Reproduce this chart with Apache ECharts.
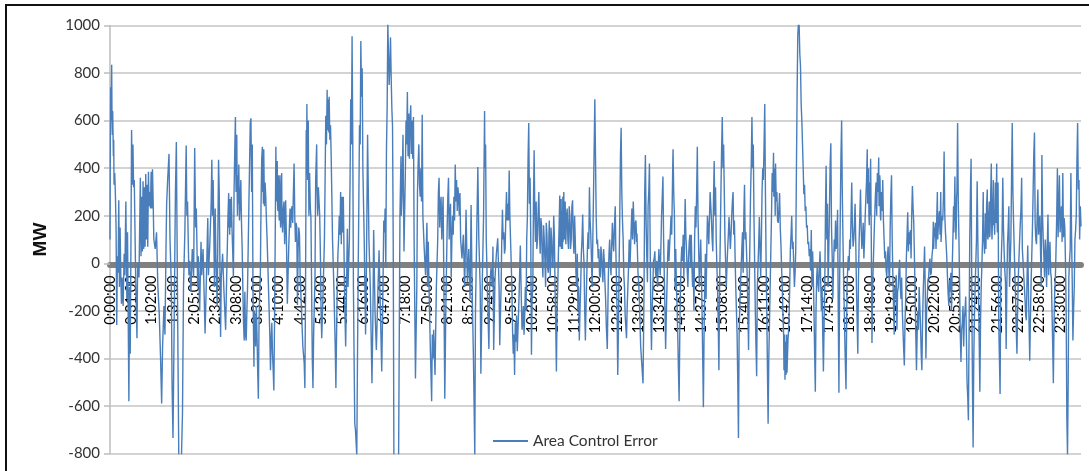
<!DOCTYPE html>
<html><head><meta charset="utf-8"><style>html,body{margin:0;padding:0;background:#fff}#c{width:1089px;height:471px}#c canvas{filter:blur(.45px)}</style>
<script src="https://cdn.jsdelivr.net/npm/echarts@6/dist/echarts.min.js"></script></head><body><div id="c"></div>
<script>
const tickLabels=["0:00:00","0:31:00","1:02:00","1:34:00","2:05:00","2:36:00","3:08:00","3:39:00","4:10:00","4:42:00","5:13:00","5:44:00","6:16:00","6:47:00","7:18:00","7:50:00","8:21:00","8:52:00","9:24:00","9:55:00","10:26:00","10:58:00","11:29:00","12:00:00","12:32:00","13:03:00","13:34:00","14:06:00","14:37:00","15:08:00","15:40:00","16:11:00","16:42:00","17:14:00","17:45:00","18:16:00","18:48:00","19:19:00","19:50:00","20:22:00","20:53:00","21:24:00","21:56:00","22:27:00","22:58:00","23:30:00"];
const seriesName="Area Control Error";
const hours0to4=[[0,100],[0.5,500],[1,740],[1.5,600],[2.5,835],[3,600],[3.5,540],[4,640],[5,450],[5.5,520],[6,330],[7,380],[8,290],[9,150],[10,-260],[11,30],[12,-40],[13,265],[14,-100],[15,150],[16,-50],[17,-170],[18,-60],[19.5,-180],[21,40],[22,-50],[23.5,260],[25,-150],[26,130],[28,-580],[29,-100],[30,-380],[31,50],[32,560],[33,330],[34,500],[35,320],[36,350],[37,150],[38,-50],[40,-315],[41,0],[43,-60],[45,360],[46,30],[47,280],[48,50],[49,345],[50,60],[51,320],[52,70],[53,375],[54,100],[55,330],[56,70],[57,385],[58,240],[59,300],[60,230],[61,385],[62,230],[63,395],[64,260],[65,100],[67,60],[69,130],[71,-100],[73,-210],[75,-400],[76.6,-590],[78,-350],[80,-180],[81.5,-300],[83,50],[84,250],[85.5,350],[87.5,460],[89,100],[91,-100],[92,-500],[93.4,-735],[95,-300],[96,0],[97,290],[98.4,510],[100,-100],[102,-810],[104,-810],[106,-810],[107.5,-630],[109,-100],[111,130],[113,495],[114,200],[115,260],[116,100],[117,-50],[118,10],[120,-120],[122,60],[124,-60],[125.6,485],[127,150],[128,230],[130,-100],[131,30],[133,-200],[135,90],[136,-50],[138,60],[141,-295],[143,-60],[145,190],[146,-50],[148,80],[150,250],[151,435],[152,200],[153,350],[155,-100],[156,230],[157,40],[159,-180],[161,435],[162,300],[164,-310],[165,-60],[167,40],[169,-120],[171.5,-280],[173,-60],[175,200],[176,295],[176.5,150],[177,240],[177.5,120],[178,270],[178.5,180],[179,260],[179.5,150],[180,280],[181,140],[182,50],[183,-60],[184,300],[185,470],[186,615],[186.5,400],[187,300],[188,540],[188.5,330],[189,200],[190,370],[190.5,250],[191,415],[192,180],[193,260],[194,350],[195,170],[196,60],[197,-100],[198,-250],[199,-325],[200,-120],[201,-300],[202,-325],[203,-200],[204,-100],[206,250],[208,590],[209,610],[210,300],[211,500],[212,-100],[213.5,-435],[214,-200],[215,-250],[216,-350],[217,-180],[218,-300],[219,-450],[220,-570],[221,-250],[222,-120],[223,-40],[224,250],[225,440],[226,490],[226.5,300],[227,430],[227.5,250],[228,480],[229,240],[230,340],[231,280],[232,180],[233,100],[235,-100],[236,-200],[237,-300],[238,-450],[239,-320],[240,-250],[241,-380],[242,-450],[243,-535],[244,-250],[245,100],[246,490],[246.5,270],[247,260],[247.5,400],[248,430],[248.5,250],[249,220],[249.5,370],[250,370],[250.5,220],[251,180],[251.5,330],[252,370],[252.5,200],[253,150],[254,300],[254.6,380],[255,180],[256,130],[257,230],[258,260],[259,80],[260.5,265],[261.5,120],[262,40],[263,-170],[264,-60],[265,60],[266,150],[267,230],[268,150],[269,220],[270,240],[271,170],[272,300],[273,420],[274,200],[275,90],[276,170],[277,150],[278,-175],[279,60],[280,150],[281,120],[282,-50]];
const hours4to8=[[284,-200],[286,-350],[288,-420],[289,-525],[290,-100],[291,560],[291.5,400],[292,670],[292.5,450],[293,350],[294,600],[294.5,380],[295,200],[295.5,350],[296,380],[296.6,385],[297,240],[298,190],[299,-100],[300,-400],[301,-525],[302,-300],[303,-180],[304,-60],[305,350],[306.5,500],[307,320],[308,200],[309,320],[310,320],[311,200],[312,40],[313,-200],[314,-315],[316,-120],[318,100],[319,350],[320,620],[321,500],[322,730],[322.5,580],[323,560],[323.5,650],[324,690],[324.5,550],[325,700],[326,520],[327,580],[328,450],[329,280],[330,100],[332,-100],[334,-350],[335,-525],[336,-300],[337,-100],[338,40],[339,100],[340,200],[341,120],[342,300],[343,80],[344,280],[345,130],[346,280],[347,60],[348,-150],[349.5,-350],[351,-60],[352,145],[353,-100],[355,100],[356,350],[357,690],[358,500],[359,955],[360,530],[361,-100],[362,-400],[363,-675],[364,-700],[366,-810],[367,-400],[368,-60],[369,250],[370,580],[371,500],[372,935],[373,700],[374,820],[375,400],[377,100],[379,-300],[380,-100],[381,220],[382,540],[383,320],[384,100],[386,-100],[388.5,-505],[390,-200],[391,140],[393,-200],[395,-365],[397,-150],[399,55],[401,-200],[403,-455],[405,-60],[406,180],[407,130],[408,230],[409,-20],[410,480],[411,650],[412,1010],[413,1010],[414,750],[415,830],[416,950],[417,780],[418,650],[419,575],[420,100],[421,-810],[424,-810],[426,-810],[428,-810],[429,-300],[430,200],[431.5,450],[432,200],[433,280],[434.5,540],[436,50],[438,380],[439,600],[440,500],[441,720],[442,450],[443,630],[444,440],[445,600],[446,665],[447,460],[448,600],[449,440],[450,615],[451,100],[452,-200],[453,-485],[455,-100],[456,300],[457,420],[458,500],[459,330],[460,280],[461,400],[462,260],[463,625],[464,200],[466,60],[468,-50],[470,170],[471,-100],[472,90],[473,-80],[475,-350],[477,-580],[478,-300],[479,-400],[480,-280],[482,-470],[484,-100],[486,100],[487,300],[488,360],[489,150],[490,240],[491,280],[492,100],[493,200],[494,280],[495,-50],[496.5,-570],[498,-200],[500,150],[501,280],[502,360],[503,100],[504,200],[505,250],[506,-60],[507,100],[508,200],[509,120],[510,280],[511,180],[512,415],[513,260],[514,350],[515,220],[516,320],[517,280],[518,200],[519,295],[520,100],[522,20],[524,120],[526,-100],[528,225],[530,-80],[532,60],[534,-150],[535.5,245],[537,-100],[539,-400],[541,-810],[542,-200],[544,150],[545.5,405],[547,100],[549,-100],[550,-465],[552,-100],[554,200],[555.5,640],[556,400],[557,500],[558,100],[560,-150],[561.9,-360],[563,-100],[565,-20],[567,-100],[567.9,70],[569,-365],[571,-60],[573,40],[575,105],[577,-100],[578,-345],[580,-100],[581,100],[582,225],[583,100],[584,130],[585,40],[586,60],[587,200],[588,300],[589,180],[590,250],[591,180],[592,390],[593,200],[594,100],[596,-100],[597,-280],[598,-380],[599,-300],[600,-470],[601,-250],[602,-330],[603,-220],[604,-370],[605,-280],[606,-200],[607,-100],[608.5,75],[610,-150],[611,-280],[612,-250]];
const hours8to12=[[613,-180],[614,-300],[615,-220],[616,-100],[617,-200],[618,100],[619,200],[620,440],[621,590],[622,250],[623,360],[624,100],[625,-385],[626,-150],[627,-100],[628,250],[629,475],[630,200],[631,90],[632,260],[633,60],[634,100],[635,220],[636,300],[637,120],[638,40],[639,190],[640,160],[641,20],[642,-60],[643,160],[644,100],[645,10],[646,-100],[647,170],[648,120],[649,-20],[650,-40],[651,130],[651.5,180],[652,20],[653,-60],[654,150],[655,100],[656,0],[657,-20],[658,200],[659,120],[660,-100],[661,-250],[662,-455],[663,-200],[664,-100],[665,40],[666,150],[667,285],[667.5,70],[668,210],[668.5,70],[669,270],[669.5,60],[670,220],[671,60],[671.5,280],[672,90],[672.5,260],[673,300],[673.5,100],[674,240],[674.5,100],[675,260],[676,80],[677,200],[678,230],[679,100],[680,60],[681,240],[682,200],[683,60],[684,100],[685,240],[686,265],[687,110],[688,40],[689,200],[690,100],[691,-40],[692,-100],[693,40],[694,-200],[695,-100],[696,-325],[697,-200],[698,-100],[699,40],[700,100],[701,205],[702,60],[703,0],[704,-200],[705,-325],[706,-180],[707,-60],[708,60],[709,130],[710,60],[711,320],[712,180],[713,120],[714,20],[715,-100],[716,100],[717,280],[718,480],[719,690],[720,450],[721,200],[722,80],[723,100],[724,20],[725,60],[726,-50],[727,-60],[728,70],[729,40],[730,-40],[731,-80],[732,60],[733,10],[734,-80],[735,-150],[736,-260],[737.5,-360],[739,-60],[740,40],[741,100],[742,10],[743,-50],[744,70],[745,170],[746,90],[747,50],[748,150],[749.3,240],[750,80],[751,-60],[752,-200],[753,-470],[754,-280],[755,-20],[756,200],[757,450],[758,570],[759,300],[760,180],[761,100],[762,-50],[763,-100],[764,-220],[766,-315],[767,-180],[768,-100],[769,-20],[770,100],[771,-20],[772,60],[773,150],[774,230],[775,100],[776,260],[777,170],[778,80],[779,170],[780,180],[781,90],[781.5,125],[783,-40],[784,-80],[785,-150],[786,-250],[787,-350],[789,-440],[790.5,-505],[792,-100],[793,300],[794,455],[795,180],[796,40],[797,-80],[798,240],[799,300],[800,420],[801,100],[802,-200],[803,-365],[804,-200],[805,-100],[806,10],[807,20],[808,50],[809,-40],[810,-60],[811,10],[812,-100],[813,-20],[814,60],[815,0],[816,-50],[817,70],[818,200],[819,280],[820,365],[821,100],[822,-50],[823,-200],[824,-360],[825,-220],[826,-100],[827,30],[828,100],[829,10],[830,80],[831,130],[832,200],[833,120],[834,300],[834.5,400],[835,480],[836,300],[837,200],[838,-100],[839,60],[840,-100],[841,-180],[842,-300],[843,-450],[844,-580],[845,-300],[846,-100],[847,10],[848,70],[849,10],[850,120],[851,-60],[852,100],[853,270],[854,120],[855,50],[856,-30],[857,-100],[858,20],[859,90],[860,120],[861,-20],[862,120],[863,-10],[864,-100],[865,-20],[866,-200],[867,100],[868,240],[869,150],[870,300],[871,490],[872,200],[873,60],[874,-100],[875,0],[876,100],[877,-30],[878,-200],[879,-400],[880,-605],[881,-300],[882,-100],[883,40],[884,-150],[885,50],[886,200],[887,150],[888,80],[889,190],[890,300],[891,240],[892,180],[893,100],[894,50],[895,270],[896,430],[897,200],[898,320],[899,100],[900,-10],[901,-100],[902,-250],[903,-450],[904,-100],[905,100],[906,300],[907,480],[908,615],[909,400],[910,500],[911,300],[912,100],[913,0],[914,-100],[915,-10],[916,60],[917,120],[918,195],[919,130],[920,60],[921,120],[922,200],[923,260],[924,300],[925,120],[926,180],[927,30],[928,-100],[929,-200],[930,-300],[931,-500],[932,-735],[933,-300],[934,-180],[935,-100],[936,-20],[937,60],[938,130],[939,-40],[940,200],[941,330],[942,100],[943,130],[944,50],[945,-60],[946,-200],[947,-365],[948,-100],[949,100],[950,300],[951,420],[952,615],[953,400],[954,500],[955,200],[956,0],[957,-200],[958,-350],[959,-475],[960,-100],[961,-10],[962,80],[963,195],[964,60],[965,-60],[966,100],[967,300],[968,400],[969,350],[970,500],[971,670],[972,300],[973,0],[974,-200],[975,-450],[976,-675],[977,-400],[978,-250],[979,-100],[980,50],[981,200],[982,380],[983,300],[984,465],[984.5,280],[985,280],[985.5,400],[986,330],[986.5,200],[987,420],[988,260],[989,300],[990,180],[991,170],[992,230],[993,295],[994,150],[995,80],[996,-20],[997,-100],[998,-220],[999,-300],[999.5,-450],[1000,-420],[1000.5,-300],[1001,-490],[1001.5,-330],[1002,-340],[1002.5,-470],[1003,-430],[1003.5,-300],[1004,-460],[1005,-465],[1005.5,-320],[1006,-300],[1007,-240],[1008,-100],[1009,60],[1010,120],[1011,200],[1012,60],[1013,90],[1014,-10],[1015,-100]];
const hours12to18=[[1016,-40],[1017,60],[1018,400],[1019,720],[1020,960],[1021,1010],[1022,1000],[1023,880],[1024,830],[1025,670],[1026,600],[1027,500],[1028,400],[1029,290],[1030,330],[1031,220],[1032,240],[1033,150],[1034,160],[1035,80],[1036,90],[1037,30],[1038,60],[1039,-30],[1040,140],[1041,-100],[1042,50],[1043,-60],[1044,-200],[1045,-380],[1046,-540],[1047,-200],[1048,-60],[1049,-10],[1050,-90],[1051,-120],[1052,-20],[1053,50],[1054,-80],[1055,-200],[1056,-100],[1057,-300],[1058,-455],[1059,-260],[1060,-100],[1061,200],[1062,410],[1063,100],[1064,250],[1065,-100],[1066,60],[1067,230],[1068,420],[1069,505],[1070,150],[1071,30],[1072,-150],[1073,-20],[1074,100],[1075,50],[1076,180],[1077,60],[1078,100],[1079,225],[1080,-200],[1081,-545],[1082,-100],[1083,200],[1084,450],[1085,600],[1086,300],[1087,100],[1088,-80],[1089,-200],[1090,-360],[1091.5,-530],[1093,-100],[1094,-20],[1095,30],[1096,-30],[1097,100],[1098,60],[1099,200],[1100,340],[1101,150],[1102,70],[1103,100],[1104,170],[1105,250],[1106,80],[1107,-100],[1108,-240],[1109,-380],[1110,-60],[1111,100],[1112,200],[1113,310],[1114,150],[1115,60],[1116,100],[1117,170],[1118,20],[1119,100],[1120,200],[1121,280],[1122,350],[1123,480],[1123.5,250],[1124,250],[1124.5,380],[1125,400],[1125.5,200],[1126,160],[1126.5,340],[1127,300],[1127.5,200],[1128,440],[1129,100],[1130,-335],[1131,-100],[1132,0],[1133,100],[1134,190],[1135,280],[1136,340],[1137,200],[1138,380],[1139,300],[1140,445],[1140.5,240],[1141,240],[1141.5,370],[1142,350],[1142.5,200],[1143,180],[1144,300],[1145,220],[1146,350],[1147,180],[1148,100],[1149,20],[1150,50],[1151,-30],[1152,-60],[1153,30],[1154,70],[1155,-30],[1156,-100],[1157,150],[1158,280],[1159,370],[1160,100],[1161,-50],[1162,-180],[1163,-300],[1164,-100],[1165,-150],[1166,-50],[1167,-280],[1168,-120],[1169,-100],[1170,-30],[1171,15],[1172,-100],[1173,-150],[1174,-60],[1175,-200],[1176,-280],[1177,-360],[1178,-430],[1179,-250],[1180,-150],[1181,20],[1182,110],[1183,215],[1184,50],[1185,130],[1186,80],[1187,140],[1188,20],[1189,210],[1190,325],[1191,230],[1192,170],[1193,20],[1194,-120],[1195,-300],[1196,-450],[1197,-300],[1198,-200],[1199,-280],[1200,-100],[1201,-180],[1202,-260],[1203,-380],[1204,-450],[1205,-250],[1206,-120],[1207,-30],[1208,70],[1209,-100],[1210,-400],[1211,-200],[1212,-150],[1213,-70],[1214,-60],[1215,-10],[1216,20],[1217,-50],[1218,-40],[1219,30],[1220,60],[1221,175],[1221.5,60],[1222,60],[1222.5,150],[1223,110],[1224,170],[1225,60],[1226,180],[1227,300],[1227.5,100],[1228,100],[1229,190],[1230,220],[1231,120],[1232,300],[1232.5,90],[1233,90],[1234,200],[1235,180],[1236,280],[1237,470],[1238,200],[1239,130],[1240,80]];
const hours18to24=[[1241,20],[1242,-60],[1243,-130],[1244,-180],[1245,-70],[1246,-120],[1247,-40],[1248,-200],[1249,-20],[1250,100],[1251,240],[1251.5,130],[1252,130],[1252.5,270],[1253,365],[1253.5,180],[1254,200],[1254.5,100],[1255,150],[1255.5,280],[1256,300],[1257,590],[1258,260],[1259,100],[1260,-100],[1261,-300],[1262,-415],[1263,-280],[1264,-250],[1265,-180],[1266,-350],[1267,-230],[1268,-200],[1269,-140],[1270,-300],[1271,-500],[1272,-560],[1273,-660],[1274,-300],[1275,100],[1276,300],[1277,440],[1278,-100],[1279,-500],[1280,-775],[1281,-400],[1282,-220],[1283,-100],[1284,0],[1285,100],[1286,345],[1287,100],[1288,-100],[1289,-320],[1290,-540],[1291,-250],[1292,-100],[1293,-10],[1294,100],[1295,300],[1295.5,90],[1296,100],[1297,40],[1298,210],[1298.5,80],[1299,60],[1300,240],[1301,310],[1301.5,110],[1302,100],[1303,190],[1304,260],[1304.5,110],[1305,120],[1306,280],[1307,420],[1307.5,160],[1308,100],[1309,220],[1310,350],[1310.5,160],[1311,190],[1312,120],[1313,340],[1313.5,190],[1314,170],[1314.5,310],[1315,420],[1315.5,180],[1316,130],[1316.5,280],[1317,340],[1318,-250],[1319,-400],[1320,-550],[1321,-100],[1322,40],[1323,130],[1324,360],[1325,150],[1326,50],[1327,-30],[1328,-80],[1329,-360],[1330,-100],[1331,80],[1332,150],[1333,240],[1334,-100],[1335,0],[1336,100],[1337,350],[1338,590],[1339,300],[1340,170],[1341,60],[1342,-50],[1343,-150],[1344,-280],[1345,-380],[1346,-200],[1347,-60],[1348,20],[1349,100],[1350,170],[1351,230],[1352,360],[1353,60],[1354,10],[1355,-50],[1356,-100],[1357,-150],[1358,-220],[1359,-240],[1360,-60],[1361,75],[1362,-100],[1363,-260],[1364,-410],[1365,-230],[1366,-80],[1367,30],[1368,150],[1369,300],[1370,460],[1371,550],[1372,170],[1373,100],[1374,80],[1375,200],[1376,310],[1377,120],[1378,170],[1379,200],[1380,50],[1381,-100],[1382,455],[1383,200],[1384,100],[1385,20],[1386,-60],[1387,100],[1388,40],[1389,-100],[1390,70],[1391,205],[1392,-50],[1393,30],[1394,90],[1395,-40],[1396,-60],[1397,-200],[1398,-340],[1399,-505],[1400,-250],[1401,-120],[1402,-60],[1403,60],[1404,200],[1405,400],[1406,110],[1407,230],[1408,370],[1409,130],[1410,180],[1411,240],[1412,90],[1413,380],[1414,110],[1415,190],[1416,150],[1417,0],[1418,-200],[1419,-650],[1420,-810],[1421,-500],[1422,-60],[1423,10],[1424,60],[1425,380],[1426,120],[1427,-80],[1428,-325],[1429,-200],[1430,-100],[1431,100],[1432,140],[1433,200],[1434,440],[1435,590],[1436,310],[1437,350],[1438,100],[1439,240],[1440,155]];
const ace=[...hours0to4,...hours4to8,...hours8to12,...hours12to18,...hours18to24];
const toMin=s=>{const p=s.split(":");return +p[0]*60+ +p[1];};
const byMin={};tickLabels.forEach(s=>byMin[toMin(s)]=s);
const tickMins=tickLabels.map(toMin);
const font='Lato,"Open Sans","Liberation Sans"';
const chart=echarts.init(document.getElementById('c'),null,{renderer:'canvas'});
chart.setOption({
 animation:false,backgroundColor:'#fff',
 grid:{left:110,right:8,top:25.5,bottom:17.5,containLabel:false,outerBoundsMode:'none'},
 legend:{show:true,left:488,top:428,icon:'rect',itemWidth:35,itemHeight:2,itemGap:2,
  textStyle:{fontFamily:font,fontSize:15.5,color:'#333'},data:[seriesName]},
 xAxis:{type:'value',min:0,max:1440,position:'bottom',offset:-188.5,splitLine:{show:false},
  axisLine:{onZero:false,lineStyle:{color:'#808080',width:6}},
  axisTick:{show:false},
  axisLabel:{customValues:tickMins,rotate:90,margin:10.5,hideOverlap:false,fontFamily:font,fontSize:14.5,color:'#000',
   formatter:v=>byMin[v]||''}},
 yAxis:{type:'value',min:-800,max:1000,interval:200,name:'MW',nameLocation:'middle',nameGap:60,
  nameTextStyle:{fontFamily:'"Liberation Sans"',fontWeight:'bold',fontSize:19,color:'#111'},
  axisLine:{show:true,onZero:false,lineStyle:{color:'#bdbdbd',width:1.5}},
  axisTick:{show:true,length:6,lineStyle:{color:'#bdbdbd',width:1.5}},
  axisLabel:{margin:10,fontFamily:font,fontSize:15,color:'#333',formatter:v=>String(v)},
  splitLine:{show:true,lineStyle:{color:'#c4c4c4',width:1.5}}},
 series:[{name:seriesName,type:'line',data:ace,showSymbol:false,symbol:'none',clip:true,
  lineStyle:{color:'#4a7ebb',width:1.4},itemStyle:{color:'#4a7ebb'},z:3}],
 graphic:[
  {type:'rect',silent:true,z:100,shape:{x:5,y:4,width:2,height:467},style:{fill:'#111'}},
  {type:'rect',silent:true,z:100,shape:{x:5,y:4,width:1084,height:2},style:{fill:'#111'}}
 ]
});
</script></body></html>
